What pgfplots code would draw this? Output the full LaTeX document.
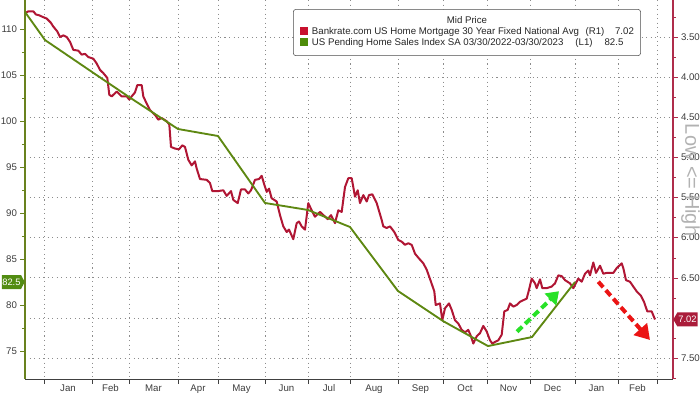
\documentclass[border=0pt]{standalone}
\usepackage{fontspec}
\setmainfont{Liberation Sans}
\usepackage{pgfplots}
\pgfplotsset{compat=1.18}
\usetikzlibrary{arrows.meta,shapes.symbols}
\definecolor{mred}{RGB}{176,22,52}
\definecolor{mgreen}{RGB}{94,136,18}
\definecolor{raxis}{RGB}{175,45,75}
\definecolor{gaxis}{RGB}{105,130,30}
\definecolor{tagred}{RGB}{170,28,58}
\definecolor{taggreen}{RGB}{82,140,18}
\definecolor{lred}{RGB}{200,16,46}
\definecolor{lgreen}{RGB}{78,140,10}
\definecolor{arrgreen}{RGB}{40,225,40}
\definecolor{arrred}{RGB}{235,20,20}
\definecolor{txt}{RGB}{60,60,60}
\newcommand{\sq}[1]{\textcolor{#1}{\rule[-0.4pt]{6pt}{6pt}}}
\begin{document}
\begin{tikzpicture}[font=\fontsize{7.25}{8.25}\selectfont]
\begin{axis}[
  scale only axis, width=486pt, height=284.25pt,
  xmin=25, xmax=673, ymin=3.039, ymax=7.762, y dir=reverse,
  axis x line*=bottom, axis y line*=right,
  x axis line style={-, black!75},
  y axis line style={-, raxis, line width=0.8pt},
  xtick={44,92,129,178,218,265,308,350,398,443,487,530,575,618,657},
  xticklabels={Jan,Feb,Mar,Apr,May,Jun,Jul,Aug,Sep,Oct,Nov,Dec,Jan,Feb},
  x tick label as interval,
  ytick={3.5,4,4.5,5,5.5,6,6.5,7.5},
  extra y ticks={7}, extra y tick labels={},
  extra y tick style={ymajorgrids=true},
  minor ytick={3.25,3.75,4.25,4.75,5.25,5.75,6.25,6.75,7.25,7.75},
  grid=major,
  grid style={dash pattern=on 0.8pt off 2.6pt, black!45},
  tick align=outside, major tick length=3.5pt, minor tick length=2pt,
  xtick style={black!75},
  ytick style={raxis},
  yticklabel style={/pgf/number format/fixed, /pgf/number format/fixed zerofill, /pgf/number format/precision=2, text=txt, xshift=-1pt},
  xticklabel style={text=txt, yshift=3pt},
  /pgf/number format/assume math mode=true,
  clip=false,
]
\addplot[mred, line width=1.5pt, line join=round] coordinates {
(25.5,3.20)(28.3,3.18)(33.3,3.18)(36,3.22)(39.3,3.23)(42.7,3.25)(46.7,3.27)(50.7,3.32)(53.3,3.37)(57.3,3.43)(60,3.50)(63.3,3.48)(66.7,3.50)(70,3.56)(73.3,3.66)(78.3,3.67)(81.7,3.72)(85,3.71)(88.3,3.75)(93.3,3.77)(96.7,3.83)(100,3.91)(103.3,3.95)(107.3,4.01)(109.3,4.22)(111.7,4.24)(116.7,4.18)(121.7,4.24)(126.7,4.24)(129.3,4.28)(131.7,4.24)(135,4.19)(137.3,4.10)(141.7,4.10)(143.3,4.24)(146.7,4.33)(150,4.41)(155,4.47)(158.3,4.53)(161.7,4.51)(166.7,4.55)(169.3,4.59)(171,4.87)(175,4.89)(179,4.90)(182.3,4.85)(185,4.87)(188.3,5.03)(191.7,5.10)(195,5.05)(196.7,5.14)(200,5.27)(206.7,5.28)(210,5.32)(212.3,5.42)(218.3,5.42)(223.3,5.41)(226.7,5.48)(231,5.42)(233.3,5.53)(237.7,5.57)(241,5.40)(245,5.40)(248.3,5.45)(251,5.41)(255,5.28)(259,5.27)(261.7,5.23)(264.3,5.34)(266.7,5.43)(269,5.39)(271.7,5.51)(276.7,5.55)(280,5.72)(283.3,5.86)(286.7,5.93)(289,5.90)(293.3,6.02)(296.7,5.82)(299,5.80)(301.7,5.86)(305,5.90)(308.3,5.57)(311.7,5.66)(315,5.74)(320,5.68)(324.3,5.73)(327.7,5.77)(331,5.72)(335,5.82)(338.3,5.66)(341.7,5.68)(345,5.37)(348.3,5.26)(351.7,5.26)(353.3,5.37)(355,5.49)(357.7,5.41)(360,5.57)(363.3,5.47)(366.7,5.55)(369,5.47)(372.3,5.46)(376.7,5.57)(381.7,5.78)(383.3,5.86)(386.7,5.88)(390,5.86)(394.3,5.93)(398.3,6.03)(401.7,6.05)(405,6.09)(408.3,6.07)(411.7,6.09)(415,6.20)(419,6.26)(423.3,6.32)(426.7,6.40)(431,6.55)(434.3,6.67)(435.7,6.84)(440,6.82)(442.3,7.03)(445,6.88)(449,6.82)(451.7,6.90)(455,7.03)(458.3,7.07)(461.7,7.15)(465,7.18)(468.3,7.15)(471,7.23)(473.3,7.32)(476.7,7.23)(480,7.19)(483.3,7.10)(486.7,7.17)(490,7.28)(492.3,7.32)(495,7.30)(498.3,7.28)(501.7,7.21)(504.3,6.92)(507.7,6.90)(510,6.82)(513.3,6.86)(516.7,6.84)(520,6.80)(523.3,6.78)(526.7,6.76)(529,6.65)(531.7,6.51)(535,6.57)(536.7,6.63)(540,6.52)(542.3,6.63)(546.7,6.63)(551.7,6.61)(555,6.57)(558.3,6.47)(561.7,6.48)(565,6.53)(570,6.57)(573.3,6.63)(578.3,6.51)(581.7,6.55)(585,6.45)(588.3,6.41)(590,6.47)(593.3,6.31)(596,6.44)(600,6.35)(603.3,6.45)(606.7,6.44)(610,6.44)(613.3,6.44)(616.7,6.38)(621.7,6.32)(623.3,6.38)(626,6.53)(630,6.55)(633.3,6.61)(636.7,6.67)(640.7,6.72)(644,6.80)(647.3,6.92)(651.7,6.92)(655,7.02)
};
\node[signal, signal to=west, signal pointer angle=120, fill=tagred, text=white, anchor=west, inner xsep=0.8pt, inner ysep=1.8pt, minimum height=10.5pt, font=\fontsize{7}{8}\selectfont] at (axis cs:673,7.02) {7.02};
\end{axis}
\begin{axis}[
  scale only axis, width=486pt, height=284.25pt,
  xmin=25, xmax=673, ymin=71.96, ymax=113.15,
  axis y line*=left, axis x line=none,
  y axis line style={-, gaxis, line width=0.8pt},
  ytick={75,80,...,110}, minor y tick num=1,
  tick align=outside, major tick length=3.5pt, minor tick length=2pt,
  ytick style={gaxis},
  yticklabel style={text=txt, xshift=1pt},
  /pgf/number format/assume math mode=true,
  clip=false,
]
\addplot[mgreen, line width=1.4pt, line join=round] coordinates {
(25,111.85)(45,108.80)(92,105.33)(129,102.61)(178,99.13)(218,98.37)(265,91.09)(308,90.33)(350,88.48)(398,81.52)(443,78.26)(488,75.54)(532,76.52)(575,82.5)
};
\draw[arrgreen, line width=3pt, dash pattern=on 5.5pt off 3pt, -{Triangle[length=9pt,width=12pt]}] (axis cs:517,77.10) -- (axis cs:559,81.5);
\draw[arrred, line width=3pt, dash pattern=on 5.5pt off 3pt, -{Triangle[length=11pt,width=13pt]}] (axis cs:598.3,82.53) -- (axis cs:650,76.2);
\node[signal, signal to=east, signal pointer angle=125, fill=taggreen, text=white, anchor=east, inner xsep=0.4pt, inner ysep=1.8pt, minimum height=10.5pt, font=\fontsize{7}{8}\selectfont] at (axis cs:25,82.5) {82.5};
\node[anchor=north west, draw=black!70, rounded corners=2pt, fill=white, inner xsep=5pt, inner ysep=5pt, text=black!85] at (rel axis cs:0.4136,0.976) {%
\begin{tabular}{@{}l@{}}
\multicolumn{1}{@{}c@{}}{Mid Price}\\
\sq{lred}\hspace{3pt}Bankrate.com US Home Mortgage 30 Year Fixed National Avg\hspace{5pt}(R1)\hspace{8pt}7.02\\
\sq{lgreen}\hspace{3pt}US Pending Home Sales Index SA 03/30/2022-03/30/2023\hspace{9pt}(L1)\hspace{9pt}82.5
\end{tabular}};
\node[rotate=-90, text=black!30, font=\fontsize{15}{15}\selectfont] at (rel axis cs:1.027,0.525) {Low <= High};
\coordinate (bl) at (rel axis cs:0,0);
\coordinate (tr) at (rel axis cs:1,1);
\end{axis}
\pgfresetboundingbox
\path[use as bounding box] ([shift={(-18.75pt,-11.25pt)}]bl) rectangle ([shift={(20.25pt,0pt)}]tr);
\end{tikzpicture}
\end{document}
